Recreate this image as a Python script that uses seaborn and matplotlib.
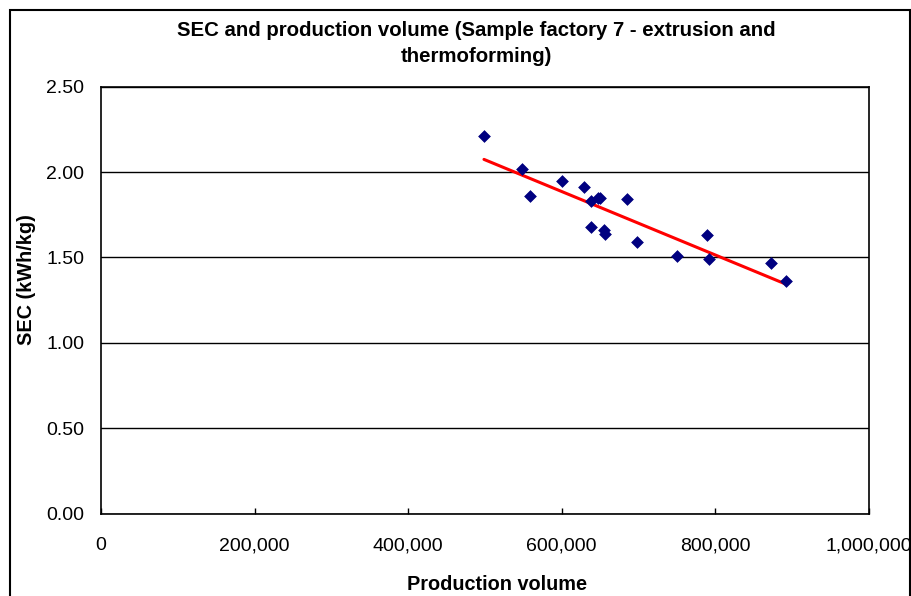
import matplotlib
matplotlib.use("Agg")
import matplotlib.pyplot as plt
import matplotlib.patches as patches
from matplotlib.ticker import FuncFormatter, MultipleLocator
import pandas as pd
import seaborn as sns

# values
production = [499000, 549000, 559000, 601000, 629000, 638000, 647000, 650000, 685000,
              639000, 656000, 657000, 698000, 750000, 790000, 792000, 873000, 892000]
sec = [2.21, 2.02, 1.86, 1.95, 1.91, 1.83, 1.85, 1.85, 1.84,
       1.68, 1.66, 1.64, 1.59, 1.51, 1.63, 1.49, 1.47, 1.36]

TITLE = 'SEC and production volume (Sample factory 7 - extrusion and\nthermoforming)'
TICK_FS = 14
LABEL_FS = 14.3
TITLE_FS = 14.7

df = pd.DataFrame({'Production volume': production, 'SEC (kWh/kg)': sec})

sns.set_theme(style='white')
plt.rcParams['font.family'] = ['Liberation Sans', 'DejaVu Sans']
plt.rcParams['text.color'] = 'black'

fig = plt.figure(figsize=(9.12, 5.96), dpi=100)
ax = fig.add_axes([101 / 912, 82.5 / 596, 767.5 / 912, 426.8 / 596])

sns.regplot(ax=ax, data=df, x='Production volume', y='SEC (kWh/kg)', ci=None,
            scatter=False, line_kws={'color': '#ff0000', 'lw': 2.2})
sns.scatterplot(ax=ax, data=df, x='Production volume', y='SEC (kWh/kg)',
                marker='D', s=36, color='#000080', edgecolor='#000080', zorder=4)

ax.set_xlim(0, 1000000)
ax.set_ylim(0, 2.5)
ax.xaxis.set_major_locator(MultipleLocator(200000))
ax.yaxis.set_major_locator(MultipleLocator(0.5))
ax.xaxis.set_major_formatter(FuncFormatter(lambda v, p: f'{v:,.0f}'))
ax.yaxis.set_major_formatter(FuncFormatter(lambda v, p: f'{v:.2f}'))
ax.grid(axis='y', color='black', lw=1)
ax.grid(axis='x', visible=False)
ax.set_axisbelow(True)
for s in ax.spines.values():
    s.set_color('black')
    s.set_linewidth(1.2)

ax.tick_params(axis='x', direction='in', length=4, width=1, color='black', pad=17,
               labelsize=TICK_FS, labelcolor='black', bottom=True)
ax.tick_params(axis='y', length=0, pad=12, labelsize=TICK_FS, labelcolor='black')

ax.set_xlabel('Production volume', fontsize=LABEL_FS, fontweight='bold', color='black', va='center')
ax.set_ylabel('SEC (kWh/kg)', fontsize=LABEL_FS, fontweight='bold', color='black', va='center')
ax.xaxis.set_label_coords(0.516, -0.167)
ax.yaxis.set_label_coords(-0.0977, 0.549)

fig.text(476 / 912, 1 - 21 / 596, TITLE, ha='center', va='top', fontsize=TITLE_FS,
         fontweight='bold', linespacing=1.45, color='black')

# chart area frame
fig.patches.append(patches.Rectangle((10 / 912, -0.05), 900 / 912, 0.05 + 1 - 9.7 / 596,
                                     transform=fig.transFigure, fill=False,
                                     edgecolor='black', lw=1.5))

fig.savefig('out.png', dpi=100)
